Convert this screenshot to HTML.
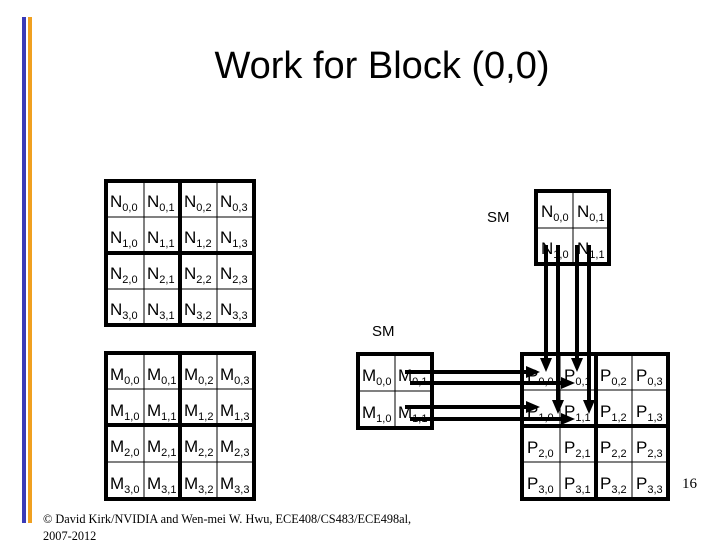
<!DOCTYPE html>
<html><head><meta charset="utf-8"><style>
html,body{margin:0;padding:0;background:#fff}
svg{display:block}
</style></head><body>
<svg width="720" height="540" xmlns="http://www.w3.org/2000/svg" font-family="Liberation Sans, Arial, sans-serif">
<rect width="720" height="540" fill="#fff"/>
<rect x="22" y="17" width="4" height="506" fill="#3a3ab8"/>
<rect x="28" y="17" width="4" height="506" fill="#f0a020"/>
<text x="382" y="78" font-size="38" text-anchor="middle" fill="#000">Work for Block (0,0)</text>

<g stroke="#000" fill="none">
<g stroke-width="1"><line x1="144" y1="181" x2="144" y2="325"/><line x1="217" y1="181" x2="217" y2="325"/><line x1="106" y1="217" x2="254" y2="217"/><line x1="106" y1="289" x2="254" y2="289"/></g>
<rect x="106" y="181" width="148" height="144" stroke-width="4"/>
<line x1="180" y1="181" x2="180" y2="325" stroke-width="4"/><line x1="106" y1="253" x2="254" y2="253" stroke-width="4"/>
<g stroke-width="1"><line x1="144" y1="353" x2="144" y2="499"/><line x1="217" y1="353" x2="217" y2="499"/><line x1="106" y1="389" x2="254" y2="389"/><line x1="106" y1="462" x2="254" y2="462"/></g>
<rect x="106" y="353" width="148" height="146" stroke-width="4"/>
<line x1="180" y1="353" x2="180" y2="499" stroke-width="4"/><line x1="106" y1="425" x2="254" y2="425" stroke-width="4"/>
<g stroke-width="1"><line x1="560" y1="354" x2="560" y2="499"/><line x1="632" y1="354" x2="632" y2="499"/><line x1="522" y1="390" x2="668" y2="390"/><line x1="522" y1="462" x2="668" y2="462"/></g>
<rect x="522" y="354" width="146" height="145" stroke-width="4"/>
<line x1="596" y1="354" x2="596" y2="499" stroke-width="4"/><line x1="522" y1="426" x2="668" y2="426" stroke-width="4"/>
<line x1="573" y1="191" x2="573" y2="264" stroke-width="1"/><line x1="536" y1="228" x2="609" y2="228" stroke-width="1"/>
<rect x="536" y="191" width="73" height="73" stroke-width="4"/>
<line x1="395" y1="354" x2="395" y2="428" stroke-width="1"/><line x1="358" y1="391" x2="432" y2="391" stroke-width="1"/>
<rect x="358" y="354" width="74" height="74" stroke-width="4"/>
</g>

<g font-size="17" fill="#000">
<text x="110" y="207">N<tspan font-size="11" dy="4">0,0</tspan></text>
<text x="147" y="207">N<tspan font-size="11" dy="4">0,1</tspan></text>
<text x="184" y="207">N<tspan font-size="11" dy="4">0,2</tspan></text>
<text x="220" y="207">N<tspan font-size="11" dy="4">0,3</tspan></text>
<text x="110" y="243">N<tspan font-size="11" dy="4">1,0</tspan></text>
<text x="147" y="243">N<tspan font-size="11" dy="4">1,1</tspan></text>
<text x="184" y="243">N<tspan font-size="11" dy="4">1,2</tspan></text>
<text x="220" y="243">N<tspan font-size="11" dy="4">1,3</tspan></text>
<text x="110" y="279">N<tspan font-size="11" dy="4">2,0</tspan></text>
<text x="147" y="279">N<tspan font-size="11" dy="4">2,1</tspan></text>
<text x="184" y="279">N<tspan font-size="11" dy="4">2,2</tspan></text>
<text x="220" y="279">N<tspan font-size="11" dy="4">2,3</tspan></text>
<text x="110" y="315">N<tspan font-size="11" dy="4">3,0</tspan></text>
<text x="147" y="315">N<tspan font-size="11" dy="4">3,1</tspan></text>
<text x="184" y="315">N<tspan font-size="11" dy="4">3,2</tspan></text>
<text x="220" y="315">N<tspan font-size="11" dy="4">3,3</tspan></text>
<text x="110" y="380">M<tspan font-size="11" dy="4">0,0</tspan></text>
<text x="147" y="380">M<tspan font-size="11" dy="4">0,1</tspan></text>
<text x="184" y="380">M<tspan font-size="11" dy="4">0,2</tspan></text>
<text x="220" y="380">M<tspan font-size="11" dy="4">0,3</tspan></text>
<text x="110" y="416">M<tspan font-size="11" dy="4">1,0</tspan></text>
<text x="147" y="416">M<tspan font-size="11" dy="4">1,1</tspan></text>
<text x="184" y="416">M<tspan font-size="11" dy="4">1,2</tspan></text>
<text x="220" y="416">M<tspan font-size="11" dy="4">1,3</tspan></text>
<text x="110" y="452">M<tspan font-size="11" dy="4">2,0</tspan></text>
<text x="147" y="452">M<tspan font-size="11" dy="4">2,1</tspan></text>
<text x="184" y="452">M<tspan font-size="11" dy="4">2,2</tspan></text>
<text x="220" y="452">M<tspan font-size="11" dy="4">2,3</tspan></text>
<text x="110" y="489">M<tspan font-size="11" dy="4">3,0</tspan></text>
<text x="147" y="489">M<tspan font-size="11" dy="4">3,1</tspan></text>
<text x="184" y="489">M<tspan font-size="11" dy="4">3,2</tspan></text>
<text x="220" y="489">M<tspan font-size="11" dy="4">3,3</tspan></text>
<text x="527" y="381">P<tspan font-size="11" dy="4">0,0</tspan></text>
<text x="564" y="381">P<tspan font-size="11" dy="4">0,1</tspan></text>
<text x="600" y="381">P<tspan font-size="11" dy="4">0,2</tspan></text>
<text x="636" y="381">P<tspan font-size="11" dy="4">0,3</tspan></text>
<text x="527" y="417">P<tspan font-size="11" dy="4">1,0</tspan></text>
<text x="564" y="417">P<tspan font-size="11" dy="4">1,1</tspan></text>
<text x="600" y="417">P<tspan font-size="11" dy="4">1,2</tspan></text>
<text x="636" y="417">P<tspan font-size="11" dy="4">1,3</tspan></text>
<text x="527" y="453">P<tspan font-size="11" dy="4">2,0</tspan></text>
<text x="564" y="453">P<tspan font-size="11" dy="4">2,1</tspan></text>
<text x="600" y="453">P<tspan font-size="11" dy="4">2,2</tspan></text>
<text x="636" y="453">P<tspan font-size="11" dy="4">2,3</tspan></text>
<text x="527" y="489">P<tspan font-size="11" dy="4">3,0</tspan></text>
<text x="564" y="489">P<tspan font-size="11" dy="4">3,1</tspan></text>
<text x="600" y="489">P<tspan font-size="11" dy="4">3,2</tspan></text>
<text x="636" y="489">P<tspan font-size="11" dy="4">3,3</tspan></text>
<text x="541" y="217">N<tspan font-size="11" dy="4">0,0</tspan></text>
<text x="577" y="217">N<tspan font-size="11" dy="4">0,1</tspan></text>
<text x="541" y="254">N<tspan font-size="11" dy="4">1,0</tspan></text>
<text x="577" y="254">N<tspan font-size="11" dy="4">1,1</tspan></text>
<text x="362" y="381">M<tspan font-size="11" dy="4">0,0</tspan></text>
<text x="398" y="381">M<tspan font-size="11" dy="4">0,1</tspan></text>
<text x="362" y="418">M<tspan font-size="11" dy="4">1,0</tspan></text>
<text x="398" y="418">M<tspan font-size="11" dy="4">1,1</tspan></text>
</g>

<text x="487" y="222" font-size="15">SM</text>
<text x="372" y="336" font-size="15">SM</text>

<g stroke="#000" stroke-width="4">
<line x1="546" y1="245" x2="546" y2="360"/>
<line x1="558" y1="245" x2="558" y2="401"/>
<line x1="577" y1="245" x2="577" y2="360"/>
<line x1="589" y1="245" x2="589" y2="401"/>
<line x1="405" y1="372" x2="527" y2="372"/>
<line x1="410" y1="383" x2="563" y2="383"/>
<line x1="405" y1="407" x2="527" y2="407"/>
<line x1="410" y1="419" x2="563" y2="419"/>
</g>
<g fill="#000">
<polygon points="540,358 552,358 546,372"/>
<polygon points="552,400 564,400 558,414"/>
<polygon points="571,358 583,358 577,372"/>
<polygon points="583,400 595,400 589,414"/>
<polygon points="526,366 526,378 540,372"/>
<polygon points="561,377 561,389 575,383"/>
<polygon points="526,401 526,413 540,407"/>
<polygon points="561,413 561,425 575,419"/>
</g>

<text x="682" y="488" font-size="15" font-family="Liberation Serif, serif">16</text>
<text x="43" y="523" font-size="12.3" font-family="Liberation Serif, serif">© David Kirk/NVIDIA and Wen-mei W. Hwu, ECE408/CS483/ECE498al,</text>
<text x="43" y="540" font-size="12.3" font-family="Liberation Serif, serif">2007-2012</text>
</svg>
</body></html>
